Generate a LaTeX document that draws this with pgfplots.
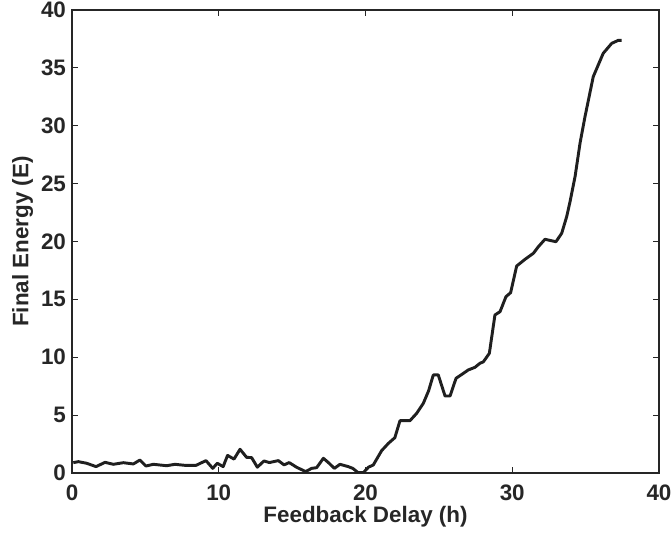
\documentclass[border=0pt]{standalone}
\usepackage{fontspec}
\setmainfont{Liberation Sans}
\usepackage{pgfplots}
\pgfplotsset{compat=1.18}

\begin{document}
\begin{tikzpicture}
\begin{axis}[
    name=ax,
    scale only axis,
    width=440.25pt, height=347.25pt,
    xmin=0, xmax=40, ymin=0, ymax=40,
    xtick={0,10,...,40}, ytick={0,5,...,40},
    tick align=inside,
    major tick length=4.5pt,
    axis line style={black!85, line width=0.8pt},
    every tick/.style={black!85, line width=0.6pt},
    ticklabel style={font=\fontsize{16.8}{18}\selectfont\bfseries, text=black!85},
    label style={font=\fontsize{16.8}{18}\selectfont\bfseries, text=black!85},
    /pgf/number format/assume math mode=true,
    xlabel={Feedback Delay (h)},
    ylabel={Final Energy (E)},
    xlabel style={at={(axis description cs:0.5,0)}, anchor=base, yshift=-37.5pt},
    ylabel style={yshift=-1pt},
    xticklabel style={anchor=base, yshift=-20.5pt},
    yticklabel style={xshift=-1pt},
  ]
  \addplot[line width=2.2pt, color=black!88, line join=round] coordinates {
    (0.09,0.89) (0.43,0.98) (1.0,0.84) (1.64,0.55) (2.25,0.92) (2.82,0.75)
    (3.5,0.89) (4.18,0.78) (4.63,1.12) (5.04,0.6) (5.54,0.75) (6.45,0.63)
    (7.02,0.75) (7.7,0.66) (8.45,0.66) (9.13,1.07) (9.59,0.4) (9.9,0.84)
    (10.3,0.55) (10.6,1.52) (11.04,1.2) (11.45,2.05) (11.9,1.35) (12.24,1.33)
    (12.63,0.5) (13.08,1.04) (13.45,0.9) (14.06,1.07) (14.45,0.7) (14.8,0.9)
    (15.3,0.5) (15.92,0.12) (16.33,0.4) (16.67,0.46) (17.13,1.27) (17.47,0.9)
    (17.88,0.4) (18.26,0.75) (18.83,0.55) (19.13,0.4) (19.5,0.03) (19.85,0.03)
    (20.2,0.5) (20.53,0.69) (21.1,1.93) (21.56,2.56) (22.0,3.05) (22.35,4.52)
    (23.03,4.52) (23.49,5.16) (23.94,6.02) (24.3,7.1) (24.62,8.47) (24.96,8.47)
    (25.42,6.65) (25.76,6.65) (26.17,8.18) (26.67,8.61) (27.0,8.9) (27.46,9.13)
    (27.8,9.48) (28.03,9.6) (28.44,10.34) (28.82,13.65) (29.17,13.94)
    (29.57,15.23) (29.89,15.58) (30.3,17.88) (30.87,18.46) (31.44,18.98)
    (31.78,19.55) (32.23,20.19) (32.98,19.98) (33.37,20.71) (33.71,22.15)
    (33.94,23.45) (34.28,25.6) (34.62,28.5) (34.96,30.8) (35.52,34.24)
    (36.2,36.26) (36.78,37.12) (37.23,37.38) (37.46,37.38)
  };
\end{axis}
\pgfresetboundingbox
\path ([xshift=-54pt,yshift=-45pt]ax.south west) rectangle ([xshift=9pt,yshift=7.5pt]ax.north east);
\end{tikzpicture}
\end{document}
